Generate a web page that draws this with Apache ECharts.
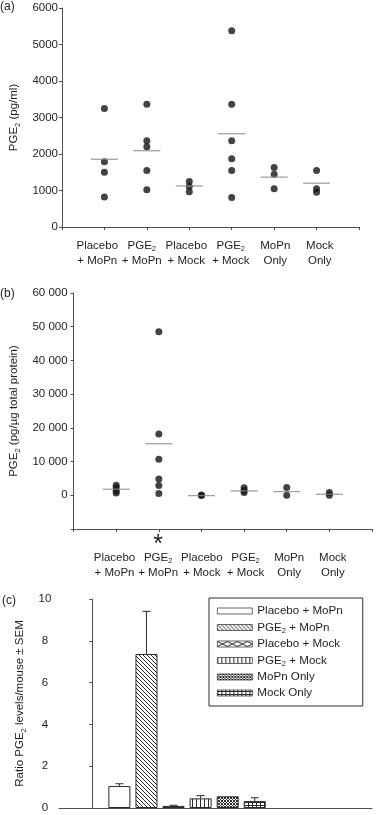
<!DOCTYPE html>
<html>
<head>
<meta charset="utf-8">
<script src="https://cdn.jsdelivr.net/npm/echarts@6/dist/echarts.min.js"></script>
<style>
  html, body { margin: 0; padding: 0; background: #fff; }
  #main { width: 377px; height: 815px; }
</style>
</head>
<body>
<div id="main"></div>
<script>
// groups (same for all 3 panels)
var categories = ['Placebo + MoPn', 'PGE2 + MoPn', 'Placebo + Mock', 'PGE2 + Mock', 'MoPn Only', 'Mock Only'];
var groupIdx = [1, 2, 3, 4, 5, 6];

// (a) PGE2 pg/ml, one array per group
var placeboMoPnA = [3250, 1790, 1500, 820];
var pgeMoPnA = [3360, 2360, 2200, 1545, 1020];
var placeboMockA = [1250, 1110, 965];
var pgeMockA = [5380, 3360, 2360, 1870, 1545, 810];
var mopnOnlyA = [1630, 1445, 1045];
var mockOnlyA = [1550, 1050, 950];
var meanA = [1855, 2090, 1125, 2555, 1365, 1200];

// (b) PGE2 pg/ug total protein
var placeboMoPnB = [3000, 2200, 1300, 700];
var pgeMoPnB = [48500, 18200, 10700, 4800, 2900, 500];
var placeboMockB = [100, -100];
var pgeMockB = [2200, 1400, 800];
var mopnOnlyB = [2300, 0];
var mockOnlyB = [800, 0];
var meanB = [1800, 15300, -100, 1300, 1100, 300];
var starred = [false, true, false, false, false, false];

// (c) ratio per mouse +- SEM
var ratio = [1.05, 7.37, 0.1, 0.46, 0.56, 0.33];
var ratioSem = [0.11, 2.04, 0.03, 0.13, 0, 0.16];

var groupsA = [placeboMoPnA, pgeMoPnA, placeboMockA, pgeMockA, mopnOnlyA, mockOnlyA];
var groupsB = [placeboMoPnB, pgeMoPnB, placeboMockB, pgeMockB, mopnOnlyB, mockOnlyB];

var FONT = '"Liberation Sans", Arial, sans-serif';
var TXT = '#1e1e1e';
var AX = '#505050';
var SUB = {
  s: { fontSize: 7.5, fontFamily: FONT, color: TXT, verticalAlign: 'bottom', lineHeight: 15 },
  star: { fontSize: 25, fontFamily: FONT, color: TXT, lineHeight: 18, padding: [9, 0, 0, 0] }
};

function sub(t) { return t.replace('PGE2', 'PGE{s|2}'); }
function twoLines(name) {
  var t = name.indexOf(' + ') >= 0 ? name.replace(' + ', '\n+ ') : name.replace(' ', '\n');
  return sub(t);
}

var myChart = echarts.init(document.getElementById('main'));

function pts(groups) {
  var out = [];
  groups.forEach(function (g, i) { g.forEach(function (v) { out.push([groupIdx[i], v]); }); });
  return out;
}
function means(m) { return m.map(function (v, i) { return [groupIdx[i], v]; }); }

// bar fill patterns
function pat(w, h, draw) {
  var c = document.createElement('canvas');
  c.width = w; c.height = h;
  var g = c.getContext('2d');
  g.fillStyle = '#fff'; g.fillRect(0, 0, w, h);
  g.fillStyle = '#2a2a2a'; g.strokeStyle = '#2a2a2a'; g.lineWidth = 1;
  draw(g);
  return { image: c, repeat: 'repeat' };
}
var fills = [
  '#fff',
  pat(4, 4, function (g) {
    g.beginPath();
    g.moveTo(-1, -1); g.lineTo(5, 5);
    g.moveTo(-1, 3); g.lineTo(1, 5);
    g.moveTo(3, -1); g.lineTo(5, 1);
    g.stroke();
  }),
  pat(10, 6, function (g) {
    g.beginPath();
    g.moveTo(0, 0.5); g.lineTo(10, 5.5);
    g.moveTo(0, 5.5); g.lineTo(10, 0.5);
    g.stroke();
  }),
  pat(4, 1, function (g) { g.fillRect(0, 0, 1, 1); }),
  pat(3, 3, function (g) {
    g.fillRect(0, 0, 1, 1); g.fillRect(2, 0, 1, 1); g.fillRect(1, 1, 1, 1);
    g.fillRect(0, 2, 1, 1); g.fillRect(2, 2, 1, 1);
  }),
  pat(4, 3, function (g) { g.fillRect(0, 0, 1, 3); g.fillRect(0, 1, 4, 1); })
];

var barSeries = categories.map(function (name, i) {
  return {
    type: 'bar', name: name, xAxisIndex: 4, yAxisIndex: 2,
    barWidth: 22, barGap: '-100%',
    data: [[groupIdx[i], ratio[i]]],
    itemStyle: { color: fills[i], borderColor: '#2a2a2a', borderWidth: 1 }
  };
});

var errSeries = {
  type: 'custom', xAxisIndex: 4, yAxisIndex: 2, z: 5,
  data: ratio.map(function (v, i) { return [groupIdx[i], v, v + ratioSem[i]]; }),
  renderItem: function (params, api) {
    if (api.value(2) <= api.value(1)) return null;
    var p0 = api.coord([api.value(0), api.value(1)]);
    var p1 = api.coord([api.value(0), api.value(2)]);
    var st = { stroke: '#2a2a2a', lineWidth: 1 };
    return { type: 'group', children: [
      { type: 'line', shape: { x1: p0[0], y1: p0[1], x2: p1[0], y2: p1[1] }, style: st },
      { type: 'line', shape: { x1: p1[0] - 4, y1: p1[1], x2: p1[0] + 4, y2: p1[1] }, style: st }
    ] };
  }
};

// axis with line + ticks only (categories at 1..6)
function tickX(grid) {
  return {
    gridIndex: grid, type: 'value', min: 0, max: 7, interval: 1, position: 'bottom',
    axisLine: { onZero: false, lineStyle: { color: AX } },
    axisTick: { length: 3, lineStyle: { color: AX } },
    splitLine: { show: false }, axisLabel: { show: false }
  };
}
// label-only axis, the labels sit slightly off the ticks in the original
function labelX(grid, min, max, fmt, margin) {
  return {
    gridIndex: grid, type: 'value', min: min, max: max, position: 'bottom',
    axisLine: { show: false, onZero: false }, axisTick: { show: false }, splitLine: { show: false },
    axisLabel: {
      customValues: groupIdx, formatter: fmt, margin: margin, lineHeight: 15, fontSize: 11.5,
      fontFamily: FONT, color: TXT, rich: SUB
    }
  };
}

option = {
  animation: false,
  textStyle: { fontFamily: FONT },
  title: [
    { text: '(a)', left: -5, top: -4, textStyle: { fontSize: 12, fontWeight: 'normal', color: TXT, fontFamily: FONT } },
    { text: '(b)', left: -5, top: 283, textStyle: { fontSize: 12, fontWeight: 'normal', color: TXT, fontFamily: FONT } },
    { text: '(c)', left: -3, top: 590, textStyle: { fontSize: 12, fontWeight: 'normal', color: TXT, fontFamily: FONT } }
  ],
  legend: {
    orient: 'vertical', left: 209, top: 598,
    data: categories,
    icon: 'rect', itemWidth: 35, itemHeight: 6, itemGap: 2,
    padding: [6, 20, 6, 8],
    borderColor: '#333', borderWidth: 1,
    itemStyle: { borderWidth: 0.7 },
    formatter: function (n) { return sub(n); },
    textStyle: { fontSize: 11.6, color: TXT, fontFamily: FONT, lineHeight: 14, rich: SUB }
  },
  grid: [
    { left: 56, right: 18, top: 8, bottom: 588 },
    { left: 59, right: 5, top: 293, bottom: 286 },
    { left: 59, right: 5, top: 599, bottom: 7 }
  ],
  xAxis: [
    tickX(0),
    tickX(1),
    labelX(0, 0.207, 6.881, function (v) { return twoLines(categories[v - 1]); }, 11),
    labelX(1, 0.063, 6.897, function (v) {
      return (starred[v - 1] ? '{star|*}' : '{star| }') + '\n' + twoLines(categories[v - 1]);
    }, 3),
    {
      gridIndex: 2, type: 'value', min: -1.23, max: 10.33,
      axisLine: { onZero: false, lineStyle: { color: AX } },
      axisTick: { show: false }, axisLabel: { show: false }, splitLine: { show: false }
    }
  ],
  yAxis: [
    {
      gridIndex: 0, type: 'value', min: 0, max: 6000, interval: 1000,
      axisLine: { show: true, lineStyle: { color: AX } },
      axisTick: { show: true, length: 3, lineStyle: { color: AX } },
      splitLine: { show: false },
      axisLabel: { margin: 4, fontSize: 11.5, color: TXT, fontFamily: FONT, formatter: function (v) { return String(v); } },
      name: 'PGE{s|2} (pg/ml)', nameLocation: 'middle', nameGap: 40, nameRotate: 90,
      nameTextStyle: { fontSize: 11.5, color: TXT, fontFamily: FONT, rich: SUB }
    },
    {
      gridIndex: 1, type: 'value', min: -10000, max: 60000, interval: 10000,
      axisLine: { show: true, lineStyle: { color: AX } },
      axisTick: { show: true, length: 3, lineStyle: { color: AX } },
      splitLine: { show: false },
      axisLabel: {
        margin: 6, fontSize: 11.5, color: TXT, fontFamily: FONT,
        formatter: function (v) { return v < 0 ? '' : String(v).replace(/\B(?=(\d{3})+(?!\d))/g, ' '); }
      },
      name: 'PGE{s|2} (pg/\u00b5g total protein)', nameLocation: 'middle', nameGap: 45, nameRotate: 90,
      nameTextStyle: { fontSize: 11.5, color: TXT, fontFamily: FONT, rich: SUB }
    },
    {
      gridIndex: 2, type: 'value', min: 0, max: 10, interval: 2,
      axisLine: { show: true, lineStyle: { color: AX } },
      axisTick: { show: true, length: 3, lineStyle: { color: AX } },
      splitLine: { show: false },
      axisLabel: { margin: 14, align: 'center', fontSize: 11.5, color: TXT, fontFamily: FONT },
      name: 'Ratio PGE{s|2} levels/mouse \u00b1 SEM', nameLocation: 'middle', nameGap: 28, nameRotate: 90,
      nameTextStyle: { fontSize: 11.5, color: TXT, fontFamily: FONT, rich: SUB }
    }
  ],
  series: [
    {
      type: 'scatter', xAxisIndex: 0, yAxisIndex: 0, symbolSize: 7,
      itemStyle: { color: '#141414' }, data: pts(groupsA)
    },
    {
      type: 'scatter', xAxisIndex: 0, yAxisIndex: 0, symbol: 'rect', symbolSize: [27, 1.3], z: 3,
      itemStyle: { color: '#8a8a8a' }, data: means(meanA)
    },
    {
      type: 'scatter', xAxisIndex: 1, yAxisIndex: 1, symbolSize: 7,
      itemStyle: { color: '#141414' }, data: pts(groupsB)
    },
    {
      type: 'scatter', xAxisIndex: 1, yAxisIndex: 1, symbol: 'rect', symbolSize: [27, 1.3], z: 3,
      itemStyle: { color: '#8a8a8a' }, data: means(meanB)
    }
  ].concat(barSeries).concat([errSeries])
};

myChart.setOption(option, true);
window.addEventListener('resize', function () {
  myChart.resize();
});
</script>
</body>
</html>
